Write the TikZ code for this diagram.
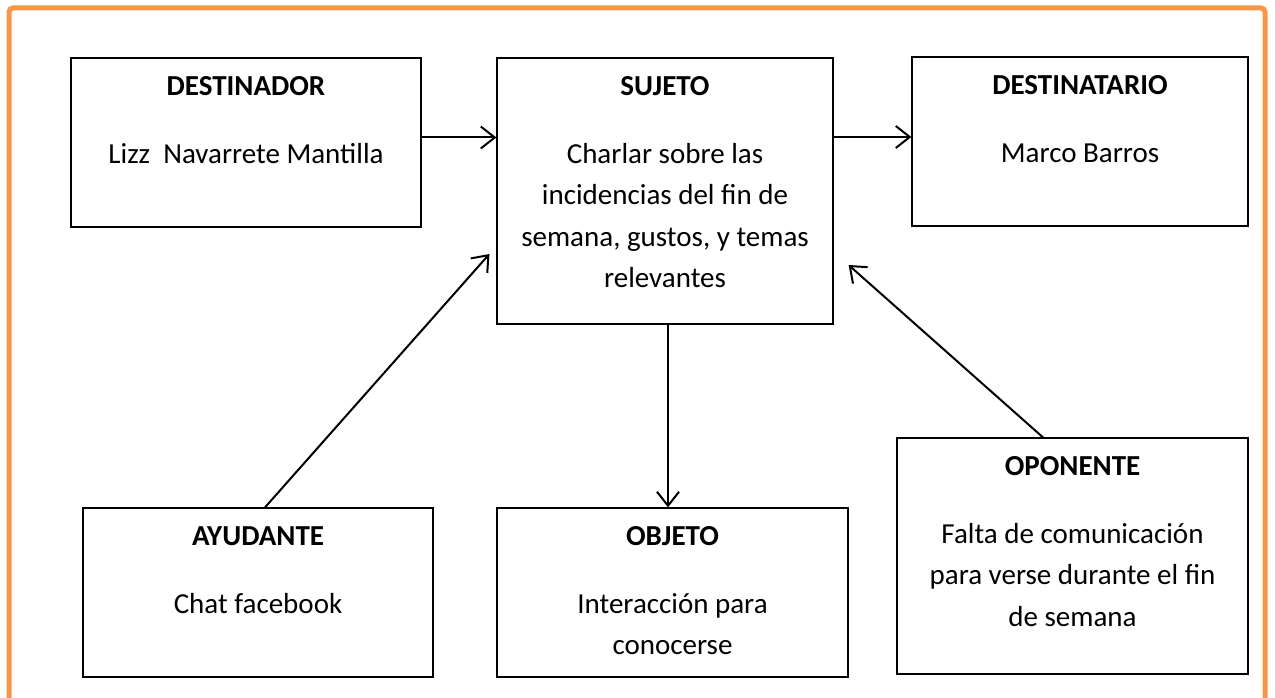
\documentclass[tikz,border=0pt]{standalone}
\usepackage{fontspec}
\setmainfont{Carlito}
\usetikzlibrary{arrows.meta,positioning}
\definecolor{frameorange}{HTML}{F79646}
\newcommand{\boxfont}{\fontsize{29}{41.5}\selectfont}
\tikzset{
  box/.style={draw, line width=1.2pt, inner sep=0pt},
  head/.style={anchor=base, font=\boxfont\bfseries},
  body/.style={anchor=base, align=center, font=\boxfont},
  link/.style={line width=2pt, -{Straight Barb[length=14pt,width=22pt,line width=2pt]}}
}
\begin{document}
\begin{tikzpicture}[x=1pt, y=-1pt]
  \useasboundingbox (0,0) rectangle (1275,698);
  % frame
  \draw[frameorange, line width=5pt, rounded corners=4pt] (9,698) -- (9,8) -- (1265,8) -- (1265,698);
  % boxes
  \node[box, minimum width=350pt, minimum height=169pt] (dest) at (246,142.5) {};
  \node[box, minimum width=336pt, minimum height=266pt] (suj) at (665,191) {};
  \node[box, minimum width=336pt, minimum height=169pt] (dtar) at (1080,141.5) {};
  \node[box, minimum width=350pt, minimum height=169pt] (ayu) at (258,592.5) {};
  \node[box, minimum width=351pt, minimum height=169pt] (obj) at (672.5,592.5) {};
  \node[box, minimum width=351pt, minimum height=236pt] (opo) at (1072.5,556) {};
  % texts (base of a body node is its last line)
  \node[head] (destT) at ([yshift=-38pt]dest.north) {DESTINADOR};
  \node[body] (destB) at ([yshift=-106pt]dest.north) {Lizz\ \ Navarrete Mantilla};
  \node[head] (sujT) at ([yshift=-38pt]suj.north) {SUJETO};
  \node[body] (sujB) at ([yshift=-230.5pt]suj.north) {Charlar sobre las\\incidencias del fin de\\semana, gustos, y temas\\relevantes};
  \node[head] (dtarT) at ([yshift=-38pt]dtar.north) {DESTINATARIO};
  \node[body] (dtarB) at ([yshift=-106pt]dtar.north) {Marco Barros};
  \node[head] (ayuT) at ([yshift=-38pt]ayu.north) {AYUDANTE};
  \node[body] (ayuB) at ([yshift=-106pt]ayu.north) {Chat facebook};
  \node[head] (objT) at ([yshift=-38pt]obj.north) {OBJETO};
  \node[body] (objB) at ([yshift=-147.5pt]obj.north) {Interacción para\\conocerse};
  \node[head] (opoT) at ([yshift=-38pt]opo.north) {OPONENTE};
  \node[body] (opoB) at ([yshift=-189pt]opo.north) {Falta de comunicación\\para verse durante el fin\\de semana};
  % arrows
  \draw[link] ([yshift=5pt]dest.east) -- ([yshift=5pt]dest.east -| suj.west);
  \draw[link] ([yshift=54pt]suj.east) -- ([yshift=54pt]suj.east -| dtar.west);
  \draw[link] ([xshift=3pt]suj.south) -- ([xshift=3pt]suj.south |- obj.north);
  \draw[link] ([xshift=7pt]ayu.north) -- ([xshift=-7pt,yshift=-63pt]suj.west);
  \draw[link] ([xshift=-29.5pt]opo.north) -- ([xshift=15pt,yshift=-74pt]suj.east);
\end{tikzpicture}
\end{document}
